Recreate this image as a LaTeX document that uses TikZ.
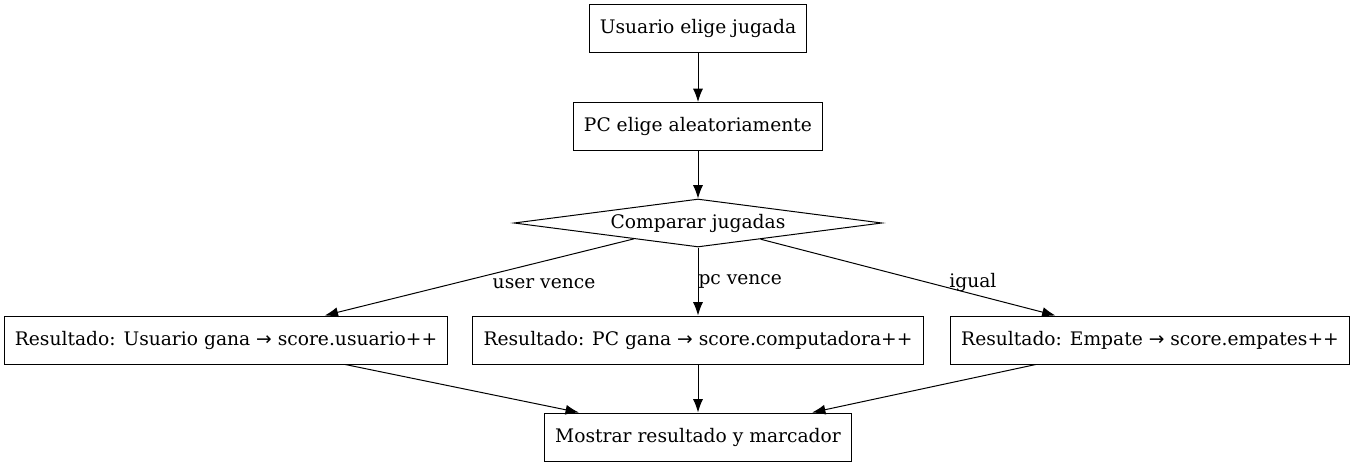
\documentclass[tikz,border=0pt]{standalone}
\usepackage{fontspec}
\setmainfont{DejaVu Serif}
\newfontfamily\arrowfont{DejaVu Sans}
\usetikzlibrary{arrows.meta}
\usetikzlibrary{shapes.geometric}
\tikzset{>={Latex[length=10pt,width=7.5pt]}}
\newcommand{\thento}{{\arrowfont →}}
\tikzstyle{stepbox}=[draw,line width=0.75pt,minimum height=36pt,inner xsep=8pt,font=\fontsize{14}{17}\selectfont]
\tikzstyle{checkbox}=[draw,diamond,aspect=7.67,line width=0.75pt,minimum width=276pt,minimum height=36pt,inner sep=0pt,font=\fontsize{14}{17}\selectfont]
\tikzstyle{flowline}=[draw,line width=0.75pt,->]
\tikzstyle{flowlabel}=[font=\fontsize{14}{17}\selectfont,inner sep=0pt]
\begin{document}
\begin{tikzpicture}[x=0.75pt,y=-0.75pt]
  \useasboundingbox (0,0) rectangle (1356,467);
  \node[stepbox] (start) at (698,28.5) {Usuario elige jugada};
  \node[stepbox] (pcpick) at (698,126.5) {PC elige aleatoriamente};
  \node[checkbox] (compare) at (698,223) {Comparar jugadas};
  \node[stepbox] (userwins) at (226,340) {Resultado: Usuario gana \thento\ score.usuario++};
  \node[stepbox] (pcwins) at (698,340) {Resultado: PC gana \thento\ score.computadora++};
  \node[stepbox] (tie) at (1150,340) {Resultado: Empate \thento\ score.empates++};
  \node[stepbox] (show) at (698,437) {Mostrar resultado y marcador};

  \draw[flowline] (start) -- (pcpick);
  \draw[flowline] (pcpick) -- (compare);
  \draw[flowline] (compare) -- node[flowlabel,pos=0.29,yshift=-17pt] {user vence} (userwins);
  \draw[flowline] (compare.south) -- node[flowlabel,pos=0.5,anchor=west] {pc vence} (pcwins);
  \draw[flowline] (compare) -- node[flowlabel,pos=0.72,yshift=9pt] {igual} (tie);
  \draw[flowline] (userwins) -- (show);
  \draw[flowline] (pcwins) -- (show);
  \draw[flowline] (tie) -- (show);
\end{tikzpicture}
\end{document}
